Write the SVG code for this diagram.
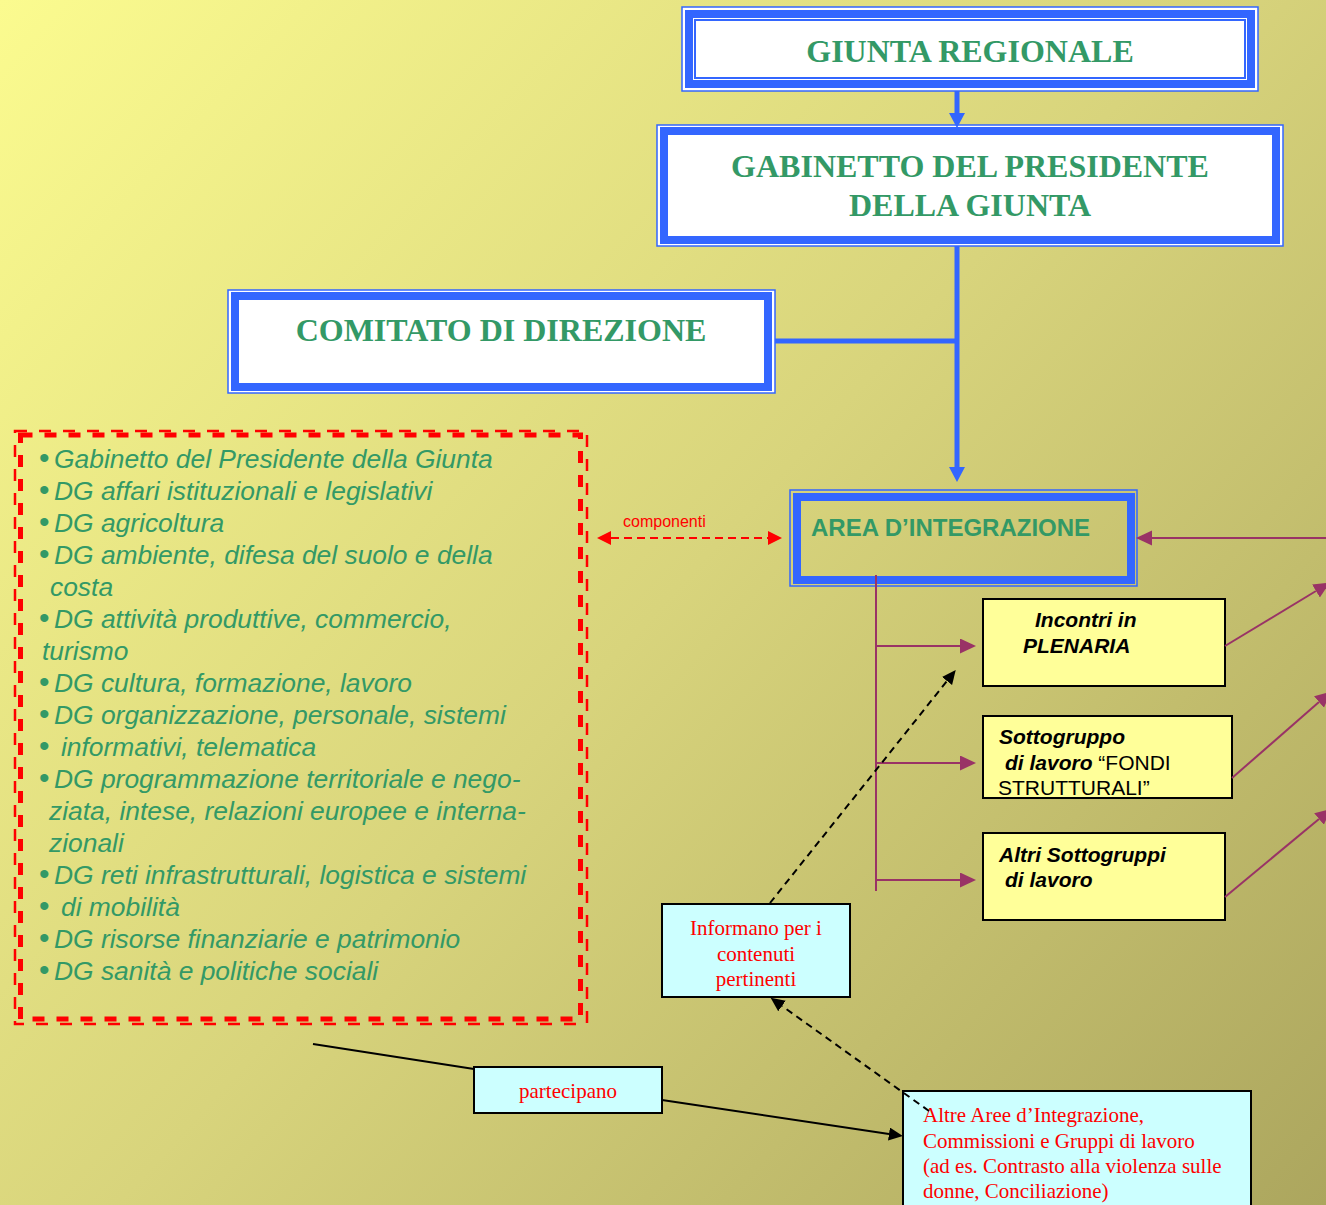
<svg xmlns="http://www.w3.org/2000/svg" width="1326" height="1205" viewBox="0 0 1326 1205">
<defs>
<linearGradient id="bg" x1="0" y1="0" x2="1326" y2="1205" gradientUnits="userSpaceOnUse">
<stop offset="0" stop-color="#FBFB8F"/>
<stop offset="0.5" stop-color="#D8D47C"/>
<stop offset="1" stop-color="#ACA65E"/>
</linearGradient>
<marker id="mBlue" markerUnits="userSpaceOnUse" markerWidth="16" markerHeight="16" refX="0" refY="8" orient="auto"><path d="M0,0 L15,8 L0,16 z" fill="#3366FF"/></marker>
<marker id="mPurple" markerUnits="userSpaceOnUse" markerWidth="16" markerHeight="16" refX="0" refY="7.5" orient="auto"><path d="M0,0 L16,7.5 L0,15 z" fill="#993366"/></marker>
<marker id="mBlack" markerUnits="userSpaceOnUse" markerWidth="14" markerHeight="14" refX="0" refY="6.5" orient="auto"><path d="M0,0 L14,6.5 L0,13 z" fill="#000"/></marker>
<marker id="mRed" markerUnits="userSpaceOnUse" markerWidth="14" markerHeight="14" refX="0" refY="7" orient="auto-start-reverse"><path d="M0,0 L14,7 L0,14 z" fill="#FF0000"/></marker>
</defs>
<style>
.title{font-family:"Liberation Serif","Times New Roman",serif;font-weight:bold;font-size:32px;fill:#339966;text-anchor:middle}
.thin{fill:none;stroke:#3366FF;stroke-width:1.5}
.thick{fill:none;stroke:#3366FF;stroke-width:8}
.list{font-family:"Liberation Sans",Arial,sans-serif;font-style:italic;font-size:26.4px;fill:#339966}
.bul{font-style:normal;font-size:30px}
.ybox{fill:#FFFF99;stroke:#000;stroke-width:2}
.ytxt{font-family:"Liberation Sans",Arial,sans-serif;font-size:21px;fill:#000}
.bi{font-weight:bold;font-style:italic}
.cbox{fill:#CCFFFF;stroke:#000;stroke-width:2}
.ctxt{font-family:"Liberation Serif","Times New Roman",serif;font-size:21px;fill:#FF0000}
.blue{stroke:#3366FF;stroke-width:5;fill:none}
.purple{stroke:#993366;stroke-width:2;fill:none}
.bdash{stroke:#000;stroke-width:2;stroke-dasharray:7,5;fill:none}
</style>
<rect x="0" y="0" width="1326" height="1205" fill="url(#bg)"/>

<g id="giunta">
<rect x="682" y="7" width="576" height="84" fill="#FFFFFF"/>
<rect class="thin" x="682" y="7" width="576" height="84"/>
<rect class="thick" x="689" y="14" width="562" height="70"/>
<rect x="695" y="20" width="550" height="58" fill="none" stroke="#3366FF" stroke-width="2"/>
<text class="title" x="970" y="62">GIUNTA REGIONALE</text>
</g>

<g id="gabinetto">
<rect x="657" y="125" width="626" height="121" fill="#FFFFFF"/>
<rect class="thin" x="657" y="125" width="626" height="121"/>
<rect class="thick" x="664" y="131" width="612" height="109"/>
<text class="title" x="970" y="177">GABINETTO DEL PRESIDENTE</text>
<text class="title" x="970" y="216">DELLA GIUNTA</text>
</g>

<g id="comitato">
<rect x="228" y="290" width="547" height="103" fill="#FFFFFF"/>
<rect class="thin" x="228" y="290" width="547" height="103"/>
<rect class="thick" x="235" y="296" width="533" height="91"/>
<text class="title" x="501" y="341">COMITATO DI DIREZIONE</text>
</g>

<g id="dg-list">
<rect x="15" y="431" width="572" height="593" fill="none" stroke="#FF0000" stroke-width="2.5" stroke-dasharray="12,12"/>
<rect x="20.5" y="435" width="560" height="584" fill="none" stroke="#FF0000" stroke-width="5" stroke-dasharray="12,12"/>
<text class="list">
<tspan class="bul" x="39" y="468">•</tspan><tspan x="54" y="468">Gabinetto del Presidente della Giunta</tspan>
<tspan class="bul" x="39" y="500">•</tspan><tspan x="54" y="500">DG affari istituzionali e legislativi</tspan>
<tspan class="bul" x="39" y="532">•</tspan><tspan x="54" y="532">DG agricoltura</tspan>
<tspan class="bul" x="39" y="564">•</tspan><tspan x="54" y="564">DG ambiente, difesa del suolo e della</tspan>
<tspan x="50" y="596">costa</tspan>
<tspan class="bul" x="39" y="628">•</tspan><tspan x="54" y="628">DG attività produttive, commercio,</tspan>
<tspan x="42" y="660">turismo</tspan>
<tspan class="bul" x="39" y="692">•</tspan><tspan x="54" y="692">DG cultura, formazione, lavoro</tspan>
<tspan class="bul" x="39" y="724">•</tspan><tspan x="54" y="724">DG organizzazione, personale, sistemi</tspan>
<tspan class="bul" x="39" y="756">•</tspan><tspan x="61" y="756">informativi, telematica</tspan>
<tspan class="bul" x="39" y="788">•</tspan><tspan x="54" y="788">DG programmazione territoriale e nego-</tspan>
<tspan x="49" y="820">ziata, intese, relazioni europee e interna-</tspan>
<tspan x="49" y="852">zionali</tspan>
<tspan class="bul" x="39" y="884">•</tspan><tspan x="54" y="884">DG reti infrastrutturali, logistica e sistemi</tspan>
<tspan class="bul" x="39" y="916">•</tspan><tspan x="61" y="916">di mobilità</tspan>
<tspan class="bul" x="39" y="948">•</tspan><tspan x="54" y="948">DG risorse finanziarie e patrimonio</tspan>
<tspan class="bul" x="39" y="980">•</tspan><tspan x="54" y="980">DG sanità e politiche sociali</tspan>
</text>
</g>

<g id="componenti-label">
<text x="623" y="527" font-family="Liberation Sans, Arial, sans-serif" font-size="16" fill="#FF0000">componenti</text>
</g>

<g id="area">
<rect class="thin" x="790" y="490" width="347" height="96"/>
<rect class="thick" x="797" y="497" width="334" height="83"/>
<text x="811" y="536" font-family="Liberation Sans, Arial, sans-serif" font-weight="bold" font-size="24" fill="#339966">AREA D’INTEGRAZIONE</text>
</g>

<g id="plenaria">
<rect class="ybox" x="983" y="599" width="242" height="87"/>
<text class="ytxt bi" x="1035" y="627">Incontri in</text>
<text class="ytxt bi" x="1023" y="653">PLENARIA</text>
</g>

<g id="sottogruppo">
<rect class="ybox" x="983" y="716" width="249" height="82"/>
<text class="ytxt bi" x="999" y="744">Sottogruppo</text>
<text class="ytxt" x="1005" y="770"><tspan class="bi">di lavoro</tspan> “FONDI</text>
<text class="ytxt" x="998" y="795">STRUTTURALI”</text>
</g>

<g id="altri-sottogruppi">
<rect class="ybox" x="983" y="833" width="242" height="87"/>
<text class="ytxt bi" x="999" y="862">Altri Sottogruppi</text>
<text class="ytxt bi" x="1005" y="887">di lavoro</text>
</g>

<g id="informano">
<rect class="cbox" x="662" y="904" width="188" height="93"/>
<text class="ctxt" text-anchor="middle" x="756" y="935">Informano per i</text>
<text class="ctxt" text-anchor="middle" x="756" y="961">contenuti</text>
<text class="ctxt" text-anchor="middle" x="756" y="986">pertinenti</text>
</g>

<g id="partecipano">
<rect class="cbox" x="474" y="1067" width="188" height="46"/>
<text class="ctxt" text-anchor="middle" x="568" y="1098">partecipano</text>
</g>

<g id="altre-aree">
<rect class="cbox" x="903" y="1091" width="348" height="130"/>
<text class="ctxt" x="923" y="1122">Altre Aree d’Integrazione,</text>
<text class="ctxt" x="923" y="1148">Commissioni e Gruppi di lavoro</text>
<text class="ctxt" x="923" y="1173">(ad es. Contrasto alla violenza sulle</text>
<text class="ctxt" x="923" y="1198">donne, Conciliazione)</text>
</g>

<g id="connectors">
<line class="blue" x1="957" y1="91" x2="957" y2="113" marker-end="url(#mBlue)"/>
<line class="blue" x1="957" y1="246" x2="957" y2="467" marker-end="url(#mBlue)"/>
<line class="blue" x1="775" y1="341" x2="959" y2="341"/>
<line x1="611" y1="538" x2="768" y2="538" stroke="#FF0000" stroke-width="2" stroke-dasharray="8,5" marker-start="url(#mRed)" marker-end="url(#mRed)"/>
<line class="purple" x1="1330" y1="538" x2="1152" y2="538" marker-end="url(#mPurple)"/>
<line class="purple" x1="876" y1="575" x2="876" y2="891"/>
<line class="purple" x1="876" y1="646" x2="960" y2="646" marker-end="url(#mPurple)"/>
<line class="purple" x1="876" y1="763" x2="960" y2="763" marker-end="url(#mPurple)"/>
<line class="purple" x1="876" y1="880" x2="960" y2="880" marker-end="url(#mPurple)"/>
<line class="purple" x1="1225" y1="646" x2="1316" y2="591" marker-end="url(#mPurple)"/>
<line class="purple" x1="1232" y1="778" x2="1319" y2="702" marker-end="url(#mPurple)"/>
<line class="purple" x1="1225" y1="897" x2="1319" y2="819" marker-end="url(#mPurple)"/>
<line class="bdash" x1="770" y1="903" x2="947" y2="681" marker-end="url(#mBlack)"/>
<line class="bdash" x1="929" y1="1111" x2="782" y2="1006" marker-end="url(#mBlack)"/>
<line x1="313" y1="1044" x2="474" y2="1069" stroke="#000" stroke-width="2"/>
<line x1="662" y1="1100" x2="889" y2="1134" stroke="#000" stroke-width="2" marker-end="url(#mBlack)"/>
</g>
</svg>
